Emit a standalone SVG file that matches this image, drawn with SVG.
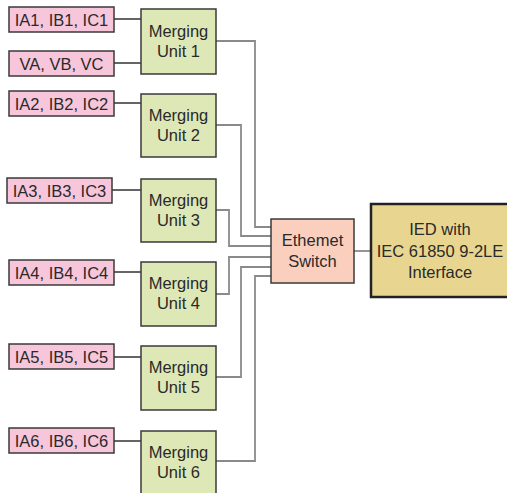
<svg xmlns="http://www.w3.org/2000/svg" width="507" height="493" viewBox="0 0 507 493">
<style>
text{font-family:"Liberation Sans",Arial,sans-serif;font-size:16.5px;fill:#2a2a2a;text-anchor:middle}
.in{fill:#f8c6da;stroke:#3a3a3a;stroke-width:1.5}
.mu{fill:#dde8b6;stroke:#3a3a3a;stroke-width:1.5}
.sw{fill:#fbcfbe;stroke:#3a3a3a;stroke-width:1.5}
.ied{fill:#e8d690;stroke:#222;stroke-width:2.5}
.c1{fill:none;stroke:#333;stroke-width:1.3}
.c2{fill:none;stroke:#8a8a8a;stroke-width:1.8}
</style>
<rect width="507" height="493" fill="#fff"/>
<g id="connectors">
<path class="c1" d="M114 19H141M114 63H141M114 103H141M112 190H141M114 272H141M114 357H141M114 441H141"/>
<path class="c2" d="M216 41H255V227H271"/>
<path class="c2" d="M216 125H241V236H271"/>
<path class="c2" d="M216 210H229V246H271"/>
<path class="c2" d="M216 294H229V257H271"/>
<path class="c2" d="M216 377H241V267H271"/>
<path class="c2" d="M216 461H255V276H271"/>
<path class="c2" d="M354 251H371"/>
</g>
<g id="in1"><rect class="in" x="9" y="7" width="105" height="25"/><text x="61.5" y="25.5">IA1, IB1, IC1</text></g>
<g id="in1v"><rect class="in" x="9" y="51" width="105" height="25"/><text x="61.5" y="69.5">VA, VB, VC</text></g>
<g id="in2"><rect class="in" x="9" y="91" width="105" height="25"/><text x="61.5" y="109.5">IA2, IB2, IC2</text></g>
<g id="in3"><rect class="in" x="7" y="178" width="105" height="25"/><text x="59.5" y="196.5">IA3, IB3, IC3</text></g>
<g id="in4"><rect class="in" x="9" y="260" width="105" height="25"/><text x="61.5" y="278.5">IA4, IB4, IC4</text></g>
<g id="in5"><rect class="in" x="9" y="344" width="105" height="25"/><text x="61.5" y="362.5">IA5, IB5, IC5</text></g>
<g id="in6"><rect class="in" x="9" y="428" width="105" height="25"/><text x="61.5" y="446.5">IA6, IB6, IC6</text></g>
<g id="mu1"><rect class="mu" x="141" y="9" width="75" height="65"/><text x="178.5" y="37">Merging</text><text x="178.5" y="57">Unit 1</text></g>
<g id="mu2"><rect class="mu" x="141" y="94" width="75" height="63"/><text x="178.5" y="121">Merging</text><text x="178.5" y="141">Unit 2</text></g>
<g id="mu3"><rect class="mu" x="141" y="179" width="75" height="63"/><text x="178.5" y="206">Merging</text><text x="178.5" y="226">Unit 3</text></g>
<g id="mu4"><rect class="mu" x="141" y="262" width="75" height="64"/><text x="178.5" y="289">Merging</text><text x="178.5" y="309">Unit 4</text></g>
<g id="mu5"><rect class="mu" x="141" y="346" width="75" height="64"/><text x="178.5" y="373">Merging</text><text x="178.5" y="393">Unit 5</text></g>
<g id="mu6"><rect class="mu" x="141" y="431" width="75" height="64"/><text x="178.5" y="458">Merging</text><text x="178.5" y="478">Unit 6</text></g>
<g id="switch"><rect class="sw" x="271" y="219" width="83" height="64"/><text x="312.5" y="246">Ethemet</text><text x="312.5" y="267">Switch</text></g>
<g id="ied"><rect class="ied" x="371" y="204" width="140" height="93"/><text x="440" y="235">IED with</text><text x="440" y="257">IEC 61850 9-2LE</text><text x="440" y="278">Interface</text></g>
</svg>
